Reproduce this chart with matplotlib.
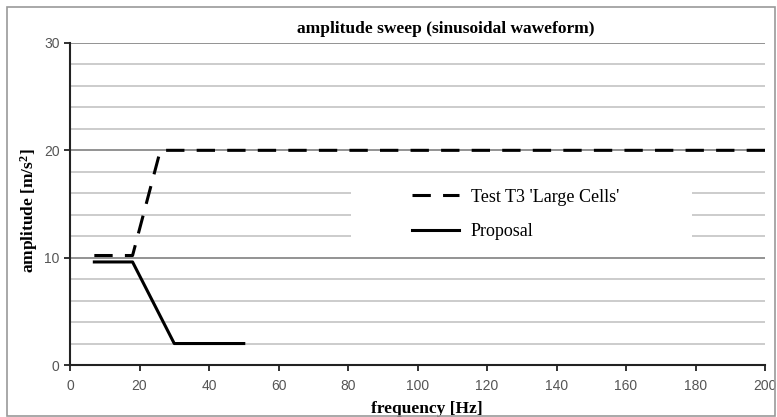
import numpy as np
import matplotlib.pyplot as plt
from matplotlib.patches import Rectangle

# data
freq_test = [7, 18, 26, 200]
amp_test = [10.2, 10.2, 20, 20]
freq_prop = [7, 18, 30, 50]
amp_prop = [9.6, 9.6, 2, 2]
xticks = list(range(0, 201, 20))
yticks = [0, 10, 20, 30]

serif = ['Liberation Serif', 'DejaVu Serif']
sans = ['Liberation Sans', 'DejaVu Sans']
plt.rcParams['mathtext.fontset'] = 'custom'
plt.rcParams['mathtext.rm'] = 'Liberation Serif:bold'
plt.rcParams['mathtext.it'] = 'Liberation Serif:bold'

fig = plt.figure(figsize=(7.77, 4.17), dpi=100)
ax = fig.add_axes([0.0901, 0.1247, 0.8945, 0.7722])

# outer frame of the figure
fig.patches.append(Rectangle((0.009, 0.003), 0.989, 0.98, transform=fig.transFigure,
                             fill=False, edgecolor='#9a9a9a', lw=1.2))

ax.set_xlim(0, 200)
ax.set_ylim(0, 30)
ax.set_xticks(xticks)
ax.set_yticks(yticks)
ax.set_yticks(np.arange(0, 31, 2), minor=True)
ax.tick_params(axis='y', which='minor', length=0)
ax.tick_params(which='major', direction='out', length=4, width=1.3, color='#222222',
               labelcolor='#555555', labelsize=10)
ax.tick_params(axis='x', pad=6)
for lab in ax.get_xticklabels() + ax.get_yticklabels():
    lab.set_family(sans)

ax.set_axisbelow(True)
ax.grid(which='minor', axis='y', color='#c8c8c8', lw=1.3)
ax.grid(which='major', axis='y', color='#8a8a8a', lw=1.3)

for s in ['top', 'right']:
    ax.spines[s].set_visible(False)
for s in ['left', 'bottom']:
    ax.spines[s].set_color('#222222')
    ax.spines[s].set_linewidth(1.5)

# white area behind the legend
ax.add_patch(Rectangle((0.405, 0.366), 0.49, 0.2, transform=ax.transAxes,
                       facecolor='white', edgecolor='none', zorder=1))

ax.plot(freq_test, amp_test, color='black', lw=2.2, linestyle=(0, (6, 4)),
        label="Test T3 'Large Cells'", zorder=3)
ax.plot(freq_prop, amp_prop, color='black', lw=2.2, label='Proposal', zorder=3)

ax.legend(loc='upper left', bbox_to_anchor=(0.479, 0.5755), frameon=False,
          prop={'family': serif, 'size': 13}, handlelength=2.6, borderpad=0,
          handletextpad=0.67, labelspacing=0.95)

ax.set_title('amplitude sweep (sinusoidal waweform)', fontsize=12.5,
             fontweight='bold', family=serif, pad=7, x=0.54)
ax.set_xlabel('frequency [Hz]', fontsize=12.5, fontweight='bold', family=serif, labelpad=6)
ax.xaxis.label.set_x(0.514)
ax.set_ylabel(r'amplitude [m/s$^2$]', fontsize=12.5, fontweight='bold', family=serif)
ax.yaxis.set_label_coords(-0.043, 0.48)

fig.savefig('out.png', dpi=100)
